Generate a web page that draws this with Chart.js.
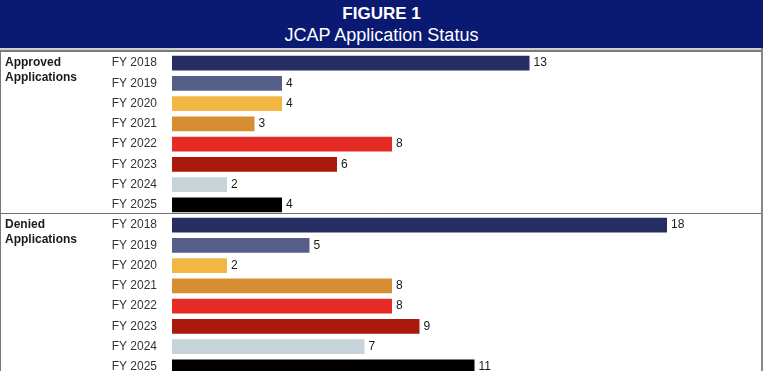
<!DOCTYPE html>
<html>
<head>
<meta charset="utf-8">
<script src="https://cdn.jsdelivr.net/npm/chart.js@4.4.1/dist/chart.umd.min.js"></script>
<style>
  html, body { margin: 0; padding: 0; width: 763px; height: 371px; overflow: hidden; background: #fff; font-family: "Liberation Sans", Arial, sans-serif; }
  #header { position: absolute; left: 0; top: 0; width: 763px; height: 48px; background: #0a1a72; color: #fff; text-align: center; }
  #header .t1 { position: absolute; left: 0; right: 0; top: 4px; font-size: 17px; font-weight: bold; line-height: 20px; }
  #header .t2 { position: absolute; left: 0; right: 0; top: 24px; font-size: 18px; line-height: 22px; }
  #l1 { position: absolute; left: 0; top: 48px; width: 763px; height: 2px; background: #cfcfcf; }
  #l2 { position: absolute; left: 0; top: 50px; width: 763px; height: 2px; background: #7a7a7a; }
  #lb { position: absolute; left: 0; top: 52px; width: 1px; height: 330px; background: #777; }
  #rb { position: absolute; left: 761px; top: 48px; width: 2px; height: 330px; background: #888; }
  #wrap { position: absolute; left: 0; top: 52px; width: 763px; height: 325px; }
</style>
</head>
<body>
<div id="header"><div class="t1">FIGURE 1</div><div class="t2">JCAP Application Status</div></div>
<div id="l1"></div><div id="l2"></div>
<div id="wrap"><canvas id="c" width="763" height="325"></canvas></div>
<div id="lb"></div><div id="rb"></div>
<script>
const years = ["FY 2018", "FY 2019", "FY 2020", "FY 2021", "FY 2022", "FY 2023", "FY 2024", "FY 2025"];
const groups = [["Approved", "Applications"], ["Denied", "Applications"]];
const approved = [13, 4, 4, 3, 8, 6, 2, 4];
const denied = [18, 5, 2, 8, 8, 9, 7, 11];
const yearColors = ["#262d63", "#565e8a", "#f1b742", "#d78d31", "#e52b26", "#ab180c", "#c6d3d8", "#000000"];

const labels = years.concat(years);
const values = approved.concat(denied);
const colors = yearColors.concat(yearColors);
const FONT = '"Liberation Sans", Arial, sans-serif';

const extras = {
  id: 'extras',
  afterDatasetsDraw(chart) {
    const ctx = chart.ctx;
    const meta = chart.getDatasetMeta(0);
    const yScale = chart.scales.y;
    ctx.save();
    ctx.font = '12px ' + FONT;
    ctx.fillStyle = '#1a1a1a';
    ctx.textAlign = 'left';
    ctx.textBaseline = 'middle';
    meta.data.forEach((bar, i) => {
      ctx.fillText(String(values[i]), bar.x + 4, bar.y);
    });
    ctx.font = 'bold 12px ' + FONT;
    groups.forEach((g, gi) => {
      const yc = yScale.getPixelForValue(gi * years.length);
      g.forEach((line, li) => ctx.fillText(line, 5, yc + li * 15));
    });
    const ySep = Math.round((yScale.getPixelForValue(years.length - 1) + yScale.getPixelForValue(years.length)) / 2) - 1.5;
    ctx.strokeStyle = '#6e6e6e';
    ctx.lineWidth = 1;
    ctx.beginPath();
    ctx.moveTo(0, ySep);
    ctx.lineTo(chart.width, ySep);
    ctx.stroke();
    ctx.restore();
  }
};

new Chart(document.getElementById('c'), {
  type: 'bar',
  data: {
    labels: labels,
    datasets: [{
      data: values,
      backgroundColor: colors,
      borderWidth: 0,
      barPercentage: 0.74,
      categoryPercentage: 1.0
    }]
  },
  options: {
    indexAxis: 'y',
    responsive: false,
    maintainAspectRatio: false,
    animation: false,
    layout: { padding: { left: 0, right: 13.5, top: 1, bottom: 0 } },
    plugins: { legend: { display: false }, tooltip: { enabled: false }, title: { display: false } },
    scales: {
      x: { display: false, min: 0, max: 21 },
      y: {
        grid: { display: false, drawTicks: false },
        border: { display: false },
        afterFit(scale) { scale.width = 172; scale.paddingTop = 0; scale.paddingBottom = 0; },
        ticks: { padding: 15, color: '#333333', font: { family: FONT, size: 12 }, autoSkip: false }
      }
    }
  },
  plugins: [extras]
});
</script>
</body>
</html>
